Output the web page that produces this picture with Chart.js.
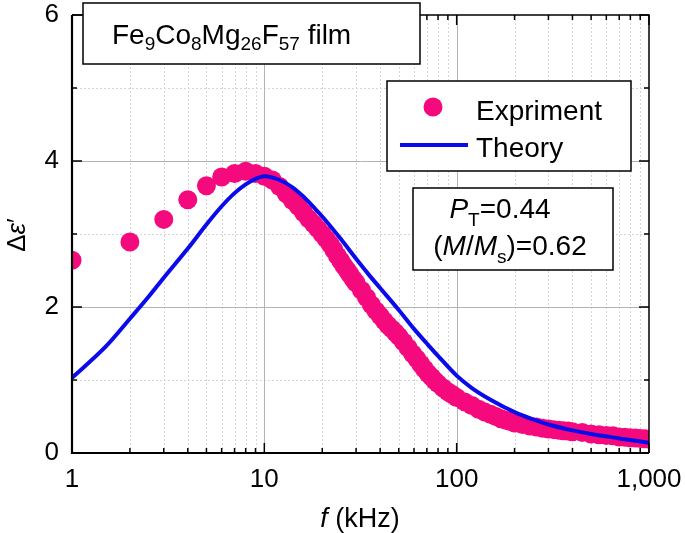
<!DOCTYPE html>
<html lang="en">
<head>
<meta charset="UTF-8">
<title>Δε′ versus f</title>
<script src="https://cdn.jsdelivr.net/npm/chart.js"></script>
<style>
  html, body { margin: 0; padding: 0; background: #fff; }
  #wrap { width: 685px; height: 533px; }
</style>
</head>
<body>
<div id="wrap"><canvas id="chart" width="685" height="533"></canvas></div>
<script>
// measured points (f in kHz, Δε′)
const expFreq = [1, 2, 3, 4, 5, 6, 7, 8, 9, 10,
  11, 12, 13, 14, 15, 16, 17, 18, 19, 20,
  21, 22, 23, 24, 25, 26, 27, 28, 29, 30,
  32, 34, 36, 38, 40, 42, 44, 46, 48, 50,
  53, 56, 59, 62, 65, 68, 71, 74, 77, 80,
  85, 90, 95, 100,
  110, 120, 130, 140, 150, 160, 170, 180, 190, 200,
  220, 240, 260, 280, 300, 320, 340, 360, 380, 400,
  450, 500, 550, 600, 650, 700, 750, 800, 850, 900, 950, 1000];
const expVal = [2.64, 2.89, 3.20, 3.47, 3.66, 3.78, 3.83, 3.86, 3.83, 3.79,
  3.74, 3.65, 3.55, 3.46, 3.38, 3.29, 3.21, 3.14, 3.07, 3.00,
  2.93, 2.86, 2.78, 2.70, 2.63, 2.56, 2.50, 2.44, 2.38, 2.33,
  2.23, 2.13, 2.03, 1.95, 1.88, 1.81, 1.75, 1.70, 1.65, 1.60,
  1.52, 1.44, 1.36, 1.29, 1.22, 1.15, 1.09, 1.04, 0.99, 0.95,
  0.89, 0.84, 0.80, 0.76,
  0.70, 0.65, 0.60, 0.56, 0.53, 0.50, 0.47, 0.45, 0.43, 0.41,
  0.39, 0.37, 0.355, 0.34, 0.33, 0.32, 0.31, 0.305, 0.30, 0.29,
  0.28, 0.26, 0.25, 0.24, 0.235, 0.22, 0.215, 0.21, 0.205, 0.20, 0.195, 0.19];

// theory curve
const theoryFreq = [1, 1.5, 2, 2.5, 3, 4, 5, 6, 7, 8, 9, 10, 12, 14, 16, 18, 20,
  25, 30, 35, 40, 50, 60, 70, 80, 100, 120, 150, 200, 250, 300, 400, 500, 700, 1000];
const theoryVal = [1.03, 1.46, 1.84, 2.14, 2.40, 2.80, 3.13, 3.38, 3.56, 3.68, 3.755, 3.79, 3.74, 3.64, 3.51, 3.37, 3.24,
  2.93, 2.66, 2.44, 2.26, 1.96, 1.70, 1.50, 1.33, 1.06, 0.89, 0.73, 0.56, 0.46, 0.39, 0.31, 0.26, 0.20, 0.14];

// axes
const xTicks = [1, 10, 100, 1000];
const xMinor = [2, 3, 4, 5, 6, 7, 8, 9, 20, 30, 40, 50, 60, 70, 80, 90, 200, 300, 400, 500, 600, 700, 800, 900];
const yTicks = [0, 2, 4, 6];
const yMinor = [1, 3, 5];

const FONT = "'Liberation Sans', Arial, Helvetica, sans-serif";
const PINK = '#f50a7d';
const BLUE = '#0a0aeb';

function drawParts(ctx, x, y, parts) {
  let cx = x;
  parts.forEach(p => {
    ctx.font = (p.italic ? 'italic ' : '') + p.size + 'px ' + FONT;
    ctx.fillText(p.t, cx, y + (p.dy || 0));
    cx += ctx.measureText(p.t).width;
  });
  return cx - x;
}
function measureParts(ctx, parts) {
  let w = 0;
  parts.forEach(p => {
    ctx.font = (p.italic ? 'italic ' : '') + p.size + 'px ' + FONT;
    w += ctx.measureText(p.t).width;
  });
  return w;
}
function box(ctx, x0, y0, x1, y1) {
  ctx.fillStyle = '#fff';
  ctx.fillRect(x0, y0, x1 - x0, y1 - y0);
  ctx.strokeStyle = '#000';
  ctx.lineWidth = 1.5;
  ctx.strokeRect(x0, y0, x1 - x0, y1 - y0);
}

const decor = {
  id: 'decor',
  beforeDatasetsDraw(chart) {
    const { ctx, chartArea: a, scales: { x, y } } = chart;
    ctx.save();
    ctx.lineWidth = 1;
    // minor grid, dotted
    ctx.strokeStyle = '#d6d6d6';
    ctx.setLineDash([2, 2]);
    ctx.beginPath();
    xMinor.forEach(v => {
      const px = Math.round(x.getPixelForValue(v)) + 0.5;
      ctx.moveTo(px, a.top); ctx.lineTo(px, a.bottom);
    });
    yMinor.forEach(v => {
      const py = Math.round(y.getPixelForValue(v)) + 0.5;
      ctx.moveTo(a.left, py); ctx.lineTo(a.right, py);
    });
    ctx.stroke();
    // major grid
    ctx.setLineDash([]);
    ctx.strokeStyle = '#b3b3b3';
    ctx.beginPath();
    xTicks.slice(1, -1).forEach(v => {
      const px = Math.round(x.getPixelForValue(v)) + 0.5;
      ctx.moveTo(px, a.top); ctx.lineTo(px, a.bottom);
    });
    yTicks.slice(1, -1).forEach(v => {
      const py = Math.round(y.getPixelForValue(v)) + 0.5;
      ctx.moveTo(a.left, py); ctx.lineTo(a.right, py);
    });
    ctx.stroke();
    ctx.restore();
  },
  afterDatasetsDraw(chart) {
    const { ctx, chartArea: a, scales: { x, y } } = chart;
    ctx.save();
    ctx.strokeStyle = '#000';
    // inward ticks
    ctx.lineWidth = 1.5;
    ctx.beginPath();
    const tx = (v, len) => {
      const px = x.getPixelForValue(v);
      ctx.moveTo(px, a.bottom); ctx.lineTo(px, a.bottom - len);
      ctx.moveTo(px, a.top); ctx.lineTo(px, a.top + len);
    };
    const ty = (v, len) => {
      const py = y.getPixelForValue(v);
      ctx.moveTo(a.left, py); ctx.lineTo(a.left + len, py);
      ctx.moveTo(a.right, py); ctx.lineTo(a.right - len, py);
    };
    xTicks.forEach(v => tx(v, 10));
    xMinor.forEach(v => tx(v, 5));
    yTicks.forEach(v => ty(v, 10));
    yMinor.forEach(v => ty(v, 5));
    ctx.stroke();
    // frame
    ctx.lineWidth = 1.5;
    ctx.beginPath();
    ctx.moveTo(a.left, a.top); ctx.lineTo(a.right, a.top); ctx.lineTo(a.right, a.bottom);
    ctx.stroke();
    ctx.lineWidth = 2.2;
    ctx.beginPath();
    ctx.moveTo(a.left, a.top); ctx.lineTo(a.left, a.bottom); ctx.lineTo(a.right, a.bottom);
    ctx.stroke();
    ctx.restore();
  },
  afterDraw(chart) {
    const { ctx } = chart;
    ctx.save();
    ctx.textBaseline = 'alphabetic';
    ctx.textAlign = 'left';

    // sample name box
    box(ctx, 83, 3, 420, 64);
    ctx.fillStyle = '#000';
    const S = 28, s = 19, d = 6;
    drawParts(ctx, 112, 44, [
      { t: 'Fe', size: S }, { t: '9', size: s, dy: d },
      { t: 'Co', size: S }, { t: '8', size: s, dy: d },
      { t: 'Mg', size: S }, { t: '26', size: s, dy: d },
      { t: 'F', size: S }, { t: '57', size: s, dy: d },
      { t: ' film', size: S }
    ]);

    // legend
    const ds = chart.data.datasets;
    box(ctx, 387, 81, 631, 171);
    ctx.fillStyle = ds[1].backgroundColor;
    ctx.beginPath();
    ctx.arc(433, 107, 9.5, 0, Math.PI * 2);
    ctx.fill();
    ctx.strokeStyle = ds[0].borderColor;
    ctx.lineWidth = 4;
    ctx.beginPath();
    ctx.moveTo(400, 145); ctx.lineTo(468, 145);
    ctx.stroke();
    ctx.fillStyle = '#000';
    ctx.font = S + 'px ' + FONT;
    ctx.fillText(ds[1].label, 476, 120);
    ctx.fillText(ds[0].label, 476, 157);

    // parameters box
    box(ctx, 413, 188, 613, 270);
    ctx.fillStyle = '#000';
    const line1 = [
      { t: 'P', size: 28, italic: true }, { t: 'T', size: 19, dy: 8 },
      { t: '=0.44', size: 28 }
    ];
    const line2 = [
      { t: '(', size: 28 }, { t: 'M', size: 28, italic: true }, { t: '/', size: 28 },
      { t: 'M', size: 28, italic: true }, { t: 's', size: 19, dy: 8 },
      { t: ')=0.62', size: 28 }
    ];
    drawParts(ctx, 500 - measureParts(ctx, line1) / 2, 218, line1);
    drawParts(ctx, 510 - measureParts(ctx, line2) / 2, 255, line2);

    // axis titles
    const xt = [{ t: 'f', size: 27, italic: true }, { t: ' (kHz)', size: 27 }];
    drawParts(ctx, 360 - measureParts(ctx, xt) / 2, 527, xt);
    const yt = [{ t: 'Δ', size: 26 }, { t: 'ε', size: 26, italic: true }, { t: '′', size: 26 }];
    ctx.translate(25, 235);
    ctx.rotate(-Math.PI / 2);
    drawParts(ctx, -measureParts(ctx, yt) / 2, 0, yt);
    ctx.restore();
  }
};

new Chart(document.getElementById('chart'), {
  type: 'scatter',
  data: {
    datasets: [
      {
        label: 'Theory',
        data: theoryFreq.map((f, i) => ({ x: f, y: theoryVal[i] })),
        showLine: true,
        borderColor: BLUE,
        borderWidth: 4,
        pointRadius: 0,
        cubicInterpolationMode: 'monotone',
        order: 1
      },
      {
        label: 'Expriment',
        data: expFreq.map((f, i) => ({ x: f, y: expVal[i] })),
        backgroundColor: PINK,
        borderWidth: 0,
        pointRadius: 9.5,
        pointHoverRadius: 9.5,
        order: 2
      }
    ]
  },
  options: {
    responsive: false,
    animation: false,
    events: [],
    layout: { padding: { top: 15, right: 36, left: 0, bottom: 0 } },
    plugins: { legend: { display: false }, tooltip: { enabled: false } },
    scales: {
      x: {
        type: 'logarithmic',
        min: 1,
        max: 1000,
        grid: { display: false, drawTicks: false },
        border: { display: false },
        afterBuildTicks: s => { s.ticks = xTicks.map(v => ({ value: v })); },
        afterFit: s => { s.height = 80; s.paddingLeft = 0; s.paddingRight = 0; },
        ticks: {
          autoSkip: false,
          maxRotation: 0,
          padding: 11,
          color: '#000',
          font: { family: FONT, size: 26 },
          callback: v => Number(v).toLocaleString('en-US')
        }
      },
      y: {
        min: 0,
        max: 6,
        grid: { display: false, drawTicks: false },
        border: { display: false },
        afterBuildTicks: s => { s.ticks = yTicks.map(v => ({ value: v })); },
        afterFit: s => { s.width = 72; s.paddingTop = 0; s.paddingBottom = 0; },
        ticks: {
          padding: 13,
          color: '#000',
          font: { family: FONT, size: 26 }
        }
      }
    }
  },
  plugins: [decor]
});
</script>
</body>
</html>
